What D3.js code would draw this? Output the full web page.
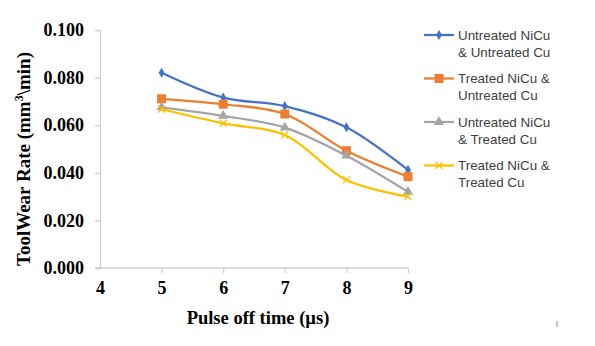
<!DOCTYPE html>
<html>
<head>
<meta charset="utf-8">
<script src="https://cdnjs.cloudflare.com/ajax/libs/d3/7.8.5/d3.min.js"></script>
<style>
  body { margin: 0; background: #fff; }
  svg { display: block; }
</style>
</head>
<body>
<svg width="595" height="346"></svg>
<script>
var pulseOff = [5, 6, 7, 8, 9];
var untreatedNiCuUntreatedCu = [0.082, 0.0716, 0.068, 0.0591, 0.0412];
var treatedNiCuUntreatedCu = [0.0711, 0.0688, 0.0647, 0.0493, 0.0384];
var untreatedNiCuTreatedCu = [0.0675, 0.0639, 0.059, 0.0472, 0.032];
var treatedNiCuTreatedCu = [0.0667, 0.0608, 0.0559, 0.037, 0.030];
var xTicks = [4, 5, 6, 7, 8, 9];
var yTicks = [0, 0.02, 0.04, 0.06, 0.08, 0.1];

var series = [
  { name: ["Untreated NiCu", "& Untreated Cu"], values: untreatedNiCuUntreatedCu, color: "#4472C4", marker: "diamond" },
  { name: ["Treated NiCu &", "Untreated Cu"], values: treatedNiCuUntreatedCu, color: "#ED7D31", marker: "square" },
  { name: ["Untreated NiCu", "& Treated Cu"], values: untreatedNiCuTreatedCu, color: "#A5A5A5", marker: "triangle" },
  { name: ["Treated NiCu &", "Treated Cu"], values: treatedNiCuTreatedCu, color: "#FFC000", marker: "x" }
];

var svg = d3.select("svg");
var serif = "'Liberation Serif', 'Times New Roman', serif";

var x = d3.scaleLinear().domain([4, 9]).range([100, 408]);
var y = d3.scaleLinear().domain([0, 0.1]).range([268, 30]);

// axes
var xAxis = svg.append("g")
    .attr("transform", "translate(0," + y(0) + ")")
    .call(d3.axisBottom(x).tickValues(xTicks).tickFormat(d3.format("d")).tickSize(5).tickPadding(8));
var yAxis = svg.append("g")
    .attr("transform", "translate(" + x(4) + ",0)")
    .call(d3.axisLeft(y).tickValues(yTicks).tickFormat(d3.format(".3f")).tickSize(5).tickPadding(11));

[xAxis, yAxis].forEach(function(a) {
  a.select(".domain").attr("stroke", "#d0d0d0").attr("stroke-width", 1.3);
  a.selectAll(".tick line").attr("stroke", "#d0d0d0").attr("stroke-width", 1.3);
  a.selectAll(".tick text")
    .attr("fill", "#000")
    .style("font-family", serif)
    .style("font-weight", "bold")
    .style("font-size", "18px");
});
// x axis extends left to the y tick length
xAxis.select(".domain").attr("d", "M" + (x(4) - 5) + ",0H" + x(9));
xAxis.selectAll(".tick").filter(function(d) { return d == 4; }).select("line").remove();

// titles
svg.append("text")
    .attr("x", 258).attr("y", 324)
    .attr("text-anchor", "middle")
    .style("font-family", serif).style("font-weight", "bold").style("font-size", "18.5px")
    .text("Pulse off time (\u00b5s)");

var yt = svg.append("text")
    .attr("transform", "translate(30,159) rotate(-90)")
    .attr("text-anchor", "middle")
    .style("font-family", serif).style("font-weight", "bold").style("font-size", "19px");
yt.append("tspan").text("ToolWear Rate (mm");
yt.append("tspan").attr("baseline-shift", "super").style("font-size", "12px").text("3");
yt.append("tspan").text("\\min)");

// lines
var line = d3.line()
    .x(function(d, i) { return x(pulseOff[i]); })
    .y(function(d) { return y(d); })
    .curve(d3.curveCatmullRom.alpha(0.5));

function drawMarker(g, type, color) {
  if (type == "diamond") {
    g.append("path").attr("d", d3.symbol().type(d3.symbolDiamond).size(30)).attr("fill", color);
  } else if (type == "square") {
    g.append("rect").attr("x", -4.5).attr("y", -4.5).attr("width", 9).attr("height", 9).attr("fill", color);
  } else if (type == "triangle") {
    g.append("path").attr("d", d3.symbol().type(d3.symbolTriangle).size(45)).attr("fill", color);
  } else {
    g.append("path").attr("d", "M-3.5,-3.5L3.5,3.5M-3.5,3.5L3.5,-3.5")
      .attr("stroke", color).attr("stroke-width", 1.2).attr("fill", "none");
  }
}

series.forEach(function(s) {
  svg.append("path")
      .attr("d", line(s.values))
      .attr("fill", "none")
      .attr("stroke", s.color)
      .attr("stroke-width", 2.25);
  s.values.forEach(function(v, i) {
    var m = svg.append("g").attr("transform", "translate(" + x(pulseOff[i]) + "," + y(v) + ")");
    drawMarker(m, s.marker, s.color);
  });
});

// legend
var legend = svg.append("g");
series.forEach(function(s, i) {
  var ly = 35 + i * 43.5;
  var g = legend.append("g").attr("transform", "translate(0," + ly + ")");
  g.append("line").attr("x1", 424).attr("x2", 454).attr("y1", 0).attr("y2", 0)
    .attr("stroke", s.color).attr("stroke-width", 2.25);
  var m = g.append("g").attr("transform", "translate(439,0)");
  drawMarker(m, s.marker, s.color);
  s.name.forEach(function(t, j) {
    g.append("text")
      .attr("x", 458).attr("y", j * 17)
      .attr("dy", "0.35em")
      .attr("fill", "#404040")
      .style("font-family", "'Liberation Sans', Arial, sans-serif")
      .style("font-size", "13.4px")
      .text(t);
  });
});

// small stray mark at bottom right
svg.append("line").attr("x1", 557).attr("x2", 557).attr("y1", 321).attr("y2", 327)
  .attr("stroke", "#888").attr("stroke-width", 1);
</script>
</body>
</html>
